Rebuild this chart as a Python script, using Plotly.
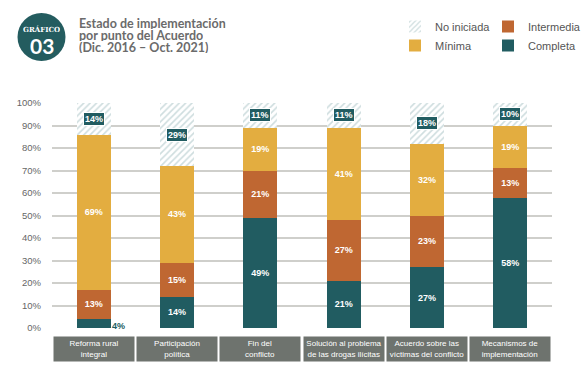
import plotly.graph_objects as go

W, H = 582, 369
ML, MR, MT, MB = 52, 30, 103, 41
PW, PH = W - ML - MR, H - MT - MB

categories = [
    "Reforma rural<br>integral",
    "Participación<br>política",
    "Fin del<br>conflicto",
    "Solución al problema<br>de las drogas ilícitas",
    "Acuerdo sobre las<br>víctimas del conflicto",
    "Mecanismos de<br>implementación",
]
completa = [4, 14, 49, 21, 27, 58]
intermedia = [13, 15, 21, 27, 23, 13]
minima = [69, 43, 19, 41, 32, 19]
no_iniciada = [14, 29, 11, 11, 18, 10]
y_ticks = [0, 10, 20, 30, 40, 50, 60, 70, 80, 90, 100]

C_COMP = "#215c61"
C_INT = "#bf6732"
C_MIN = "#e3ad40"
C_HATCH = "#9dbbbe"
C_GRAY = "#666666"


def px(x):
    return (x - ML) / PW


def py(y):
    return (H - MB - y) / PH


def lbl(vals):
    return [f"<b>{v}%</b>" if v >= 5 else "" for v in vals]


fig = go.Figure()
common = dict(width=0.41, textposition="inside", insidetextanchor="middle",
              textangle=0, textfont=dict(color="white", size=9, family="Liberation Sans"),
              hoverinfo="skip")
fig.add_trace(go.Bar(x=categories, y=completa, name="Completa", marker=dict(color=C_COMP, line_width=0),
                     text=lbl(completa), legend="legend2", **common))
fig.add_trace(go.Bar(x=categories, y=intermedia, name="Intermedia", marker=dict(color=C_INT, line_width=0),
                     text=lbl(intermedia), legend="legend2", **common))
fig.add_trace(go.Bar(x=categories, y=minima, name="Mínima", marker=dict(color=C_MIN, line_width=0),
                     text=lbl(minima), legend="legend", **common))
fig.add_trace(go.Bar(x=categories, y=no_iniciada, name="No iniciada",
                     marker=dict(color="white", line_width=0,
                                 pattern=dict(shape="/", fgcolor=C_HATCH, bgcolor="white",
                                              size=4.5, solidity=0.35)),
                     legend="legend", hoverinfo="skip"))

annotations = []
# No iniciada labels in teal boxes
for c, a, b, m, n in zip(categories, completa, intermedia, minima, no_iniciada):
    base = a + b + m
    top = min(base + n, 100)
    annotations.append(dict(x=c, y=(base + top) / 2, xref="x", yref="y", text=f"<b>{n}%</b>",
                            showarrow=False, bgcolor=C_COMP, bordercolor="white", borderwidth=1,
                            borderpad=1, font=dict(color="white", size=9, family="Liberation Sans")))
    if a < 5:
        annotations.append(dict(x=c, y=a / 2, xref="x", yref="y", text=f"<b>{a}%</b>",
                                showarrow=False, xanchor="left", xshift=16, yshift=-2,
                                font=dict(color=C_COMP, size=9, family="Liberation Sans")))
# Category label boxes
for c in categories:
    annotations.append(dict(x=c, y=0, xref="x", yref="paper", yanchor="top", yshift=-8,
                            text=c, showarrow=False, bgcolor="#6e736e", width=78, height=22,
                            font=dict(color="white", size=8, family="Liberation Sans")))
# Badge text
annotations.append(dict(x=px(41.5), y=py(29), xref="paper", yref="paper", xanchor="center",
                        yanchor="middle", text="<b>GRÁFICO</b>", showarrow=False, height=8,
                        font=dict(color="white", size=7, family="DejaVu Serif")))
annotations.append(dict(x=px(41.5), y=py(45), xref="paper", yref="paper", xanchor="center",
                        yanchor="middle", text="<b>03</b>", showarrow=False, height=20,
                        font=dict(color="white", size=21, family="Lato")))
# Title
for i, t in enumerate(["Estado de implementación", "por punto del Acuerdo", "(Dic. 2016 – Oct. 2021)"]):
    annotations.append(dict(x=px(77), y=py(24 + 11.7 * i), xref="paper", yref="paper", xanchor="left",
                            yanchor="middle", text=f"<b>{t}</b>", showarrow=False, height=11,
                            font=dict(color="#6b6b6b", size=12.5, family="Lato")))

shapes = [dict(type="circle", xref="paper", yref="paper", x0=px(17.5), x1=px(65.5),
               y0=py(61), y1=py(13), fillcolor="#245c5f", line_width=0, layer="below")]

legend_common = dict(orientation="v", xref="container", yref="container", xanchor="left", yanchor="top",
                     font=dict(color="#555555", size=11, family="Liberation Sans"),
                     traceorder="reversed", bgcolor="rgba(0,0,0,0)", tracegroupgap=0)
fig.update_layout(
    width=W, height=H, margin=dict(l=ML, r=MR, t=MT, b=MB, autoexpand=False),
    paper_bgcolor="white", plot_bgcolor="white",
    barmode="stack", bargap=0.59,
    font=dict(family="Liberation Sans"),
    xaxis=dict(showticklabels=False, showgrid=False, zeroline=False, showline=False),
    yaxis=dict(range=[0, 100], tickvals=y_ticks, ticktext=[f"{v}%" for v in y_ticks],
               showgrid=True, gridcolor="#cfcfcb", gridwidth=1.5, zeroline=False,
               tickfont=dict(color=C_GRAY, size=9.5), ticklabelstandoff=10, fixedrange=True),
    legend=dict(x=395 / W, y=1 - 12 / H, **legend_common),
    legend2=dict(x=488 / W, y=1 - 12 / H, **legend_common),
    annotations=annotations, shapes=shapes,
    showlegend=True,
)

fig.write_html("out.html", config={"displayModeBar": False},
               post_script="document.body.style.margin='0px';document.body.style.overflow='hidden';")
